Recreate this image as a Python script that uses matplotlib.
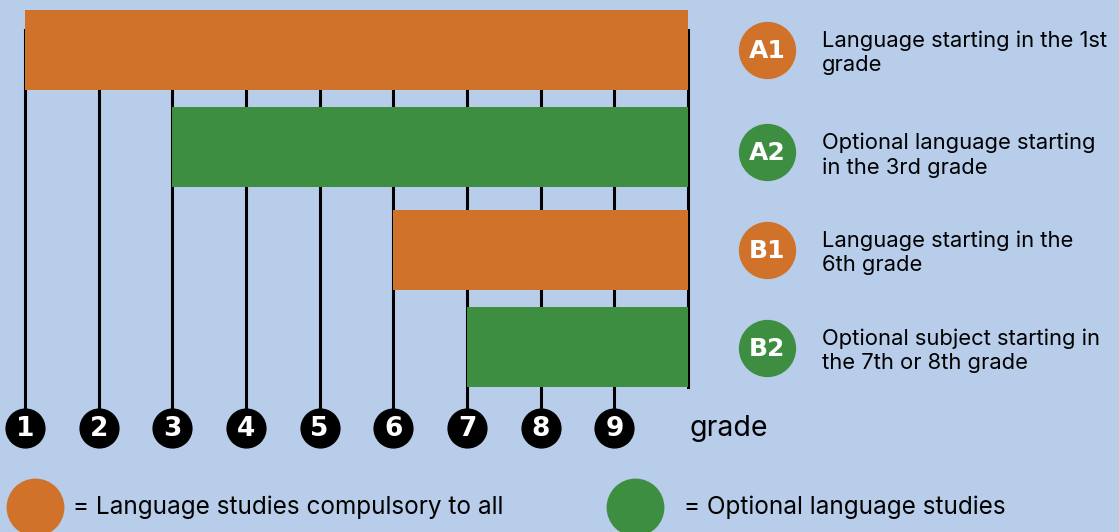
import matplotlib.pyplot as plt

# data
codes = ["A1", "A2", "B1", "B2"]
start_grade = [1, 3, 6, 7]
end_grade = [10, 10, 10, 10]
kind = ["compulsory", "optional", "compulsory", "optional"]
descriptions = ["Language starting in the 1st\ngrade",
                "Optional language starting\nin the 3rd grade",
                "Language starting in the\n6th grade",
                "Optional subject starting in\nthe 7th or 8th grade"]
grades = [1, 2, 3, 4, 5, 6, 7, 8, 9]
legend_labels = {"compulsory": "= Language studies compulsory to all",
                 "optional": "= Optional language studies"}

bg = "#b8cdea"
colors = {"compulsory": "#d07229", "optional": "#3e8e41"}
font = ["Inter", "DejaVu Sans"]

W, H = 1119, 532
fig = plt.figure(figsize=(W / 100, H / 100), dpi=100)
fig.patch.set_facecolor(bg)

# main chart axes: x in grades, y in pixel rows
ax = fig.add_axes([0, 0, 1, 1])
ax.set_facecolor(bg)
px = 73.67  # pixels per grade
ax.set_xlim(1 - 25 / px, 1 + (W - 25) / px)
ax.set_ylim(H, 0)
ax.axis("off")

row_top = [10, 107, 210, 307]
bar_h = 80
circle_y = 428

# vertical grade lines
for g in grades:
    ax.plot([g, g], [30, circle_y], color="black", lw=2.2, zorder=1)
ax.plot([10, 10], [30, 387], color="black", lw=2.2, zorder=1)

# bars
for i in range(len(codes)):
    ax.barh(row_top[i] + bar_h / 2, end_grade[i] - start_grade[i], height=bar_h,
            left=start_grade[i], color=colors[kind[i]], zorder=2)

# grade circles
ax.scatter(grades, [circle_y] * len(grades), s=780, color="black", zorder=3)
for g in grades:
    ax.text(g, circle_y + 1, str(g), color="white", fontsize=19, fontweight="heavy",
            ha="center", va="center", family=["DejaVu Sans"], zorder=4)
ax.text(9 + 75 / px, circle_y, "grade", fontsize=20.5, ha="left", va="center",
        family=font)

# overlay in pixel coords for legends
ov = fig.add_axes([0, 0, 1, 1])
ov.set_xlim(0, W)
ov.set_ylim(H, 0)
ov.axis("off")
ov.patch.set_alpha(0)

label_cy = [50, 152, 250, 348]
for i in range(len(codes)):
    ov.scatter([767], [label_cy[i]], s=1620, color=colors[kind[i]], zorder=3)
    ov.text(767, label_cy[i] + 1, codes[i], color="white", fontsize=18, fontweight="heavy",
            ha="center", va="center", family=["DejaVu Sans"], zorder=4)
    ov.text(822, label_cy[i] + 3, descriptions[i], fontsize=15.8, ha="left",
            va="center", linespacing=1.25, family=font)

ov.scatter([35], [507], s=1650, color=colors["compulsory"], clip_on=False)
ov.text(73, 507, legend_labels["compulsory"], fontsize=17.5, ha="left", va="center",
        family=font)
ov.scatter([635], [507], s=1650, color=colors["optional"], clip_on=False)
ov.text(684, 507, legend_labels["optional"], fontsize=17.5, ha="left", va="center",
        family=font)

fig.savefig("out.png", dpi=100, facecolor=bg)
